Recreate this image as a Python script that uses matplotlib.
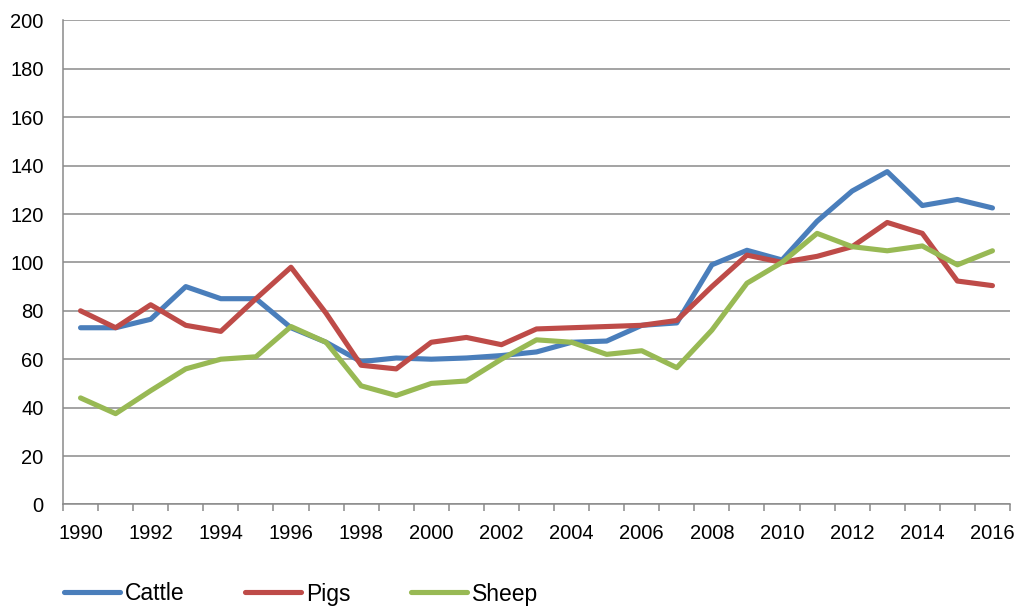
import matplotlib
matplotlib.use('Agg')
import matplotlib.pyplot as plt
import numpy as np

plt.rcParams['font.family'] = ['Liberation Sans', 'DejaVu Sans']

years = list(range(1990, 2017))
cattle = [73, 73, 76.5, 90, 85, 85, 73, 67, 59, 60.5, 60, 60.5, 61.5, 63, 67, 67.5,
          74, 75, 99, 105, 101, 117, 129.5, 137.5, 123.5, 126, 122.5]
pigs = [80, 73, 82.5, 74, 71.5, 85, 98, 79, 57.5, 56, 67, 69, 66, 72.5, 73, 73.5,
        74, 76, 90, 103, 100, 102.5, 106.5, 116.5, 112, 92.3, 90.4]
sheep = [44, 37.5, 47, 56, 60, 61, 73.5, 67, 49, 45, 50, 51, 60, 68, 67, 62,
         63.5, 56.5, 72, 91.4, 100, 112, 106.5, 104.8, 106.8, 99, 104.8]
series_names = ['Cattle', 'Pigs', 'Sheep']
colors = ['#4A7EBB', '#BE4B48', '#98B954']

fig = plt.figure(figsize=(10.19, 6.08), dpi=100)
ax = fig.add_axes([63 / 1019, 1 - 504.4 / 608, 947 / 1019, 484 / 608])

x = np.arange(len(years))
for vals, name, c in zip([cattle, pigs, sheep], series_names, colors):
    ax.plot(x, vals, color=c, lw=3.7, label=name,
            solid_capstyle='round', solid_joinstyle='round')

ax.set_xlim(-0.5, len(years) - 0.5)
ax.set_ylim(0, 200)
ax.set_yticks(range(0, 201, 20))
ax.yaxis.grid(True, color='#8a8a8a', lw=1.1)
ax.set_axisbelow(True)

ax.set_xticks(x[::2])
ax.set_xticklabels([str(y) for y in years[::2]])
ax.set_xticks(np.arange(-0.5, len(years), 1), minor=True)
ax.tick_params(axis='x', which='major', length=0, pad=14, labelsize=14.5)
ax.tick_params(axis='x', which='minor', length=5, width=1.1, color='#8a8a8a')
ax.tick_params(axis='y', length=0, pad=14, labelsize=14.5)

for s in ['top', 'right']:
    ax.spines[s].set_visible(False)
for s in ['left', 'bottom']:
    ax.spines[s].set_color('#8a8a8a')
    ax.spines[s].set_linewidth(1.1)

fig.legend(loc='center left', bbox_to_anchor=(64 / 1019, 1 - 594 / 608),
           ncol=3, frameon=False, fontsize=16.5, borderpad=0, borderaxespad=0,
           handlelength=2.45, handletextpad=0.2, columnspacing=2.65)

fig.savefig('out.png', dpi=100)
